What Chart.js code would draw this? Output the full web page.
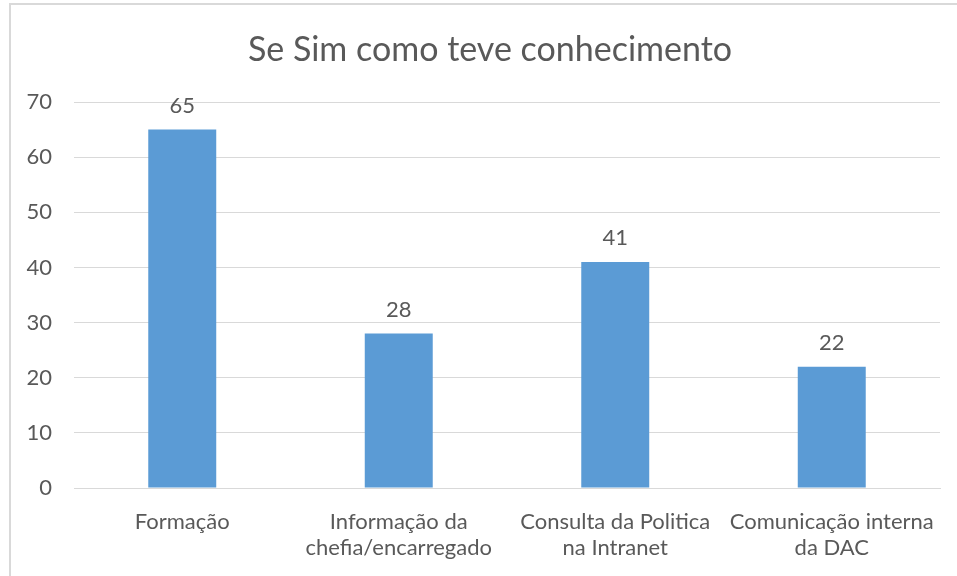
<!DOCTYPE html>
<html>
<head>
<meta charset="utf-8">
<title>Se Sim como teve conhecimento</title>
<script src="https://cdn.jsdelivr.net/npm/chart.js@4.4.1/dist/chart.umd.min.js"></script>
<style>
    html, body { margin: 0; padding: 0; background: #fff; overflow: hidden; }
    #wrap { position: relative; width: 957px; height: 576px; }
    #frame {
        position: absolute; left: 9px; top: 3px; right: -4px; bottom: -4px;
        border-left: 2px solid #d9d9d9; border-top: 2px solid #d9d9d9;
        pointer-events: none;
    }
    canvas { position: absolute; left: 0; top: 0; }
</style>
</head>
<body>
<div id="wrap">
    <canvas id="chart" width="957" height="576"></canvas>
    <div id="frame"></div>
</div>
<script>
// Data
const chartTitle = 'Se Sim como teve conhecimento';
const categories = [
    'Formação',
    ['Informação da', 'chefia/encarregado'],
    ['Consulta da Politica', 'na Intranet'],
    ['Comunicação interna', 'da DAC']
];
const respostas = [65, 28, 41, 22];
const yTicks = [0, 10, 20, 30, 40, 50, 60, 70];

const textColor = '#595959';
const gridColor = '#d9d9d9';
const fontFamily = 'Lato, Carlito, Calibri, sans-serif';

// Title, centred over the whole framed area (not just the canvas minus padding)
const frameTitle = {
    id: 'frameTitle',
    afterDraw(chart) {
        const ctx = chart.ctx;
        ctx.save();
        ctx.font = '34px ' + fontFamily;
        ctx.fillStyle = textColor;
        ctx.textAlign = 'center';
        ctx.textBaseline = 'alphabetic';
        ctx.fillText(chartTitle, 490, 61);
        ctx.restore();
    }
};

// Value labels above each bar
const barValueLabels = {
    id: 'barValueLabels',
    afterDatasetsDraw(chart) {
        const ctx = chart.ctx;
        ctx.save();
        ctx.font = '22px ' + fontFamily;
        ctx.fillStyle = textColor;
        ctx.textAlign = 'center';
        ctx.textBaseline = 'middle';
        chart.getDatasetMeta(0).data.forEach((bar, i) => {
            ctx.fillText(String(respostas[i]), bar.x, bar.y - 24);
        });
        ctx.restore();
    }
};

const ctx = document.getElementById('chart').getContext('2d');
new Chart(ctx, {
    type: 'bar',
    data: {
        labels: categories,
        datasets: [{
            data: respostas,
            backgroundColor: '#5b9bd5',
            borderWidth: 0,
            categoryPercentage: 1,
            barPercentage: 0.314
        }]
    },
    options: {
        responsive: false,
        animation: false,
        layout: { padding: { left: 0, right: 17, top: 102, bottom: 0 } },
        plugins: {
            legend: { display: false },
            tooltip: { enabled: false },
            title: { display: false }
        },
        scales: {
            y: {
                min: 0,
                max: 70,
                afterFit(scale) { scale.width = 74; },
                afterBuildTicks(scale) { scale.ticks = yTicks.map(v => ({ value: v })); },
                grid: { color: gridColor, lineWidth: 1, drawTicks: false },
                border: { display: false },
                ticks: {
                    color: textColor,
                    padding: 22,
                    font: { family: fontFamily, size: 22 }
                }
            },
            x: {
                afterFit(scale) { scale.height = 88; },
                grid: { display: false, drawTicks: false },
                border: { display: true, color: gridColor, width: 1 },
                ticks: {
                    color: textColor,
                    padding: 21,
                    maxRotation: 0,
                    autoSkip: false,
                    font: { family: fontFamily, size: 22, lineHeight: 1.18 }
                }
            }
        }
    },
    plugins: [frameTitle, barValueLabels]
});
</script>
</body>
</html>
